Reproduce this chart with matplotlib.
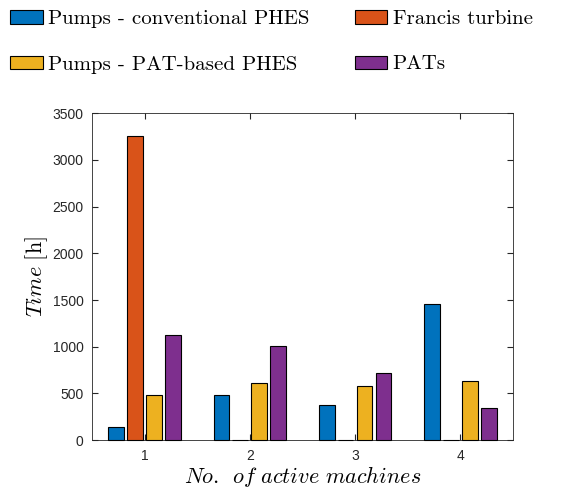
import numpy as np
import matplotlib.pyplot as plt

plt.rcParams['mathtext.fontset'] = 'cm'
plt.rcParams['axes.formatter.use_mathtext'] = False

groups = [1, 2, 3, 4]
pumps_conv = [140, 480, 375, 1455]
francis = [3255, 0, 0, 0]
pumps_pat = [485, 615, 585, 635]
pats = [1130, 1005, 715, 345]

names = ['Pumps - conventional PHES', 'Francis turbine',
         'Pumps - PAT-based PHES', 'PATs']
colors = ['#0072BD', '#D95319', '#EDB120', '#7E2F8E']

fig = plt.figure(figsize=(5.68, 4.88), dpi=100)
ax = fig.add_axes([0.162, 0.098, 0.741, 0.670])

x = np.array(groups, dtype=float)
w = 0.15
offs = [-0.27, -0.09, 0.09, 0.27]
series = [pumps_conv, francis, pumps_pat, pats]
bars = []
for s, o, c in zip(series, offs, colors):
    b = ax.bar(x + o, s, width=w, color=c, edgecolor='black', linewidth=0.8,
               zorder=3, clip_on=False)
    bars.append(b)

ax.set_xlim(0.5, 4.5)
ax.set_ylim(0, 3500)
ax.set_xticks(groups)
ax.set_yticks(np.arange(0, 3501, 500))
ax.tick_params(direction='in', top=True, right=True, labelsize=10, length=4,
               colors='#262626', labelcolor='#262626', pad=6)
for sp in ax.spines.values():
    sp.set_color('#262626')
    sp.set_linewidth(0.6)
for t in ax.get_xticklabels() + ax.get_yticklabels():
    t.set_family('Liberation Sans')

ax.set_ylabel(r'$\mathit{Time}\ \mathrm{[h]}$', fontsize=16, labelpad=2)
ax.set_xlabel(r'$\mathit{No.\ \,of\ active\ machines}$', fontsize=16, labelpad=1)

# legend order: row-wise like MATLAB (blue, orange / yellow, purple)
order = [0, 2, 1, 3]
leg = fig.legend([bars[i] for i in order], [names[i] for i in order],
                 ncol=2, loc='upper left', bbox_to_anchor=(0.0, 1.0),
                 frameon=False, prop={'family': 'cmr10', 'size': 15},
                 handlelength=1.55, handleheight=0.6, handletextpad=0.25,
                 columnspacing=2.2, labelspacing=1.3, borderaxespad=0.2,
                 borderpad=0.3)

fig.savefig('out.png', dpi=100)
